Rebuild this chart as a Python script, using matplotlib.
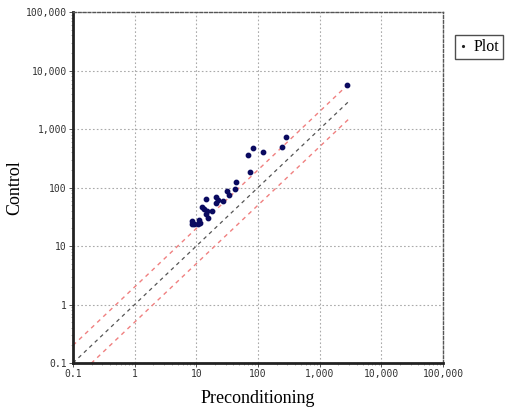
import numpy as np
import matplotlib.pyplot as plt
from matplotlib.ticker import FixedLocator, LogLocator, NullFormatter

# values
precond = [2730, 283, 244, 119, 81.7, 68.6, 74, 43.4, 42.2, 31.7, 33.4, 26.7,
           22.6, 20.6, 20.8, 18.1, 14.3, 12.5, 13.1, 14.7, 14.1, 15.2, 11.0,
           11.4, 10.5, 8.6, 8.4, 9.2]
control = [5650, 721, 498, 409, 468, 364, 182, 124, 93, 87, 73.6, 59.4,
           61.1, 68, 55, 39.7, 64.4, 45.9, 43.4, 39.7, 34.8, 30.5, 27.8,
           24.4, 23.8, 27.1, 23.5, 23.8]
ticks = [0.1, 1, 10, 100, 1000, 10000, 100000]
tick_labels = ["0.1", "1", "10", "100", "1,000", "10,000", "100,000"]
line_x = [0.1, 3000]

fig = plt.figure(figsize=(5.11, 4.09), dpi=100)
ax = fig.add_axes([0.1429, 0.1125, 0.724, 0.858])

lx = np.array(line_x)
ax.plot(lx, lx, color='#555555', ls=(0, (3, 3)), lw=0.9)
ax.plot(lx, lx * 2, color='#f08080', ls=(0, (3, 3)), lw=1.0)
ax.plot(lx, lx / 2, color='#f08080', ls=(0, (3, 3)), lw=1.0)
ax.scatter(precond, control, s=10, color='#0a0a60', zorder=3, label='Plot')

ax.set_xscale('log')
ax.set_yscale('log')
ax.set_xlim(0.1, 100000)
ax.set_ylim(0.1, 100000)

font_tick = dict(family='DejaVu Sans Mono', size=7, color='#333333')
ax.xaxis.set_major_locator(FixedLocator(ticks))
ax.yaxis.set_major_locator(FixedLocator(ticks))
ax.set_xticklabels(tick_labels, **font_tick)
ax.set_yticklabels(tick_labels, **font_tick)
for a in (ax.xaxis, ax.yaxis):
    a.set_minor_locator(LogLocator(base=10, subs=np.arange(2, 10), numticks=20))
    a.set_minor_formatter(NullFormatter())
ax.tick_params(which='major', length=3, width=0.7, color='#555555', pad=1.5)
ax.tick_params(which='minor', length=1.5, width=0.5, color='#888888')

ax.grid(True, which='major', color='#aaaaaa', ls=(0, (1.5, 2)), lw=0.8)

for s in ('left', 'bottom'):
    ax.spines[s].set_linewidth(2)
    ax.spines[s].set_color('#222222')
for s in ('top', 'right'):
    ax.spines[s].set_linestyle((0, (2, 1.5)))
    ax.spines[s].set_linewidth(1)
    ax.spines[s].set_color('#555555')

ax.set_xlabel('Preconditioning', family='Liberation Serif', size=13, labelpad=8)
ax.set_ylabel('Control', family='Liberation Serif', size=13, labelpad=2)

leg = fig.legend(loc='upper left', bbox_to_anchor=(0.875, 0.935), frameon=True,
                 fancybox=False, handlelength=0.5, handletextpad=0.4,
                 borderpad=0.25, markerscale=0.4,
                 prop={'family': 'Liberation Serif', 'size': 11.5})
leg.get_frame().set_edgecolor('#222222')
leg.get_frame().set_linewidth(1)
for h in leg.legend_handles:
    h.set_color('#222222')

fig.savefig('out.png', dpi=100)
